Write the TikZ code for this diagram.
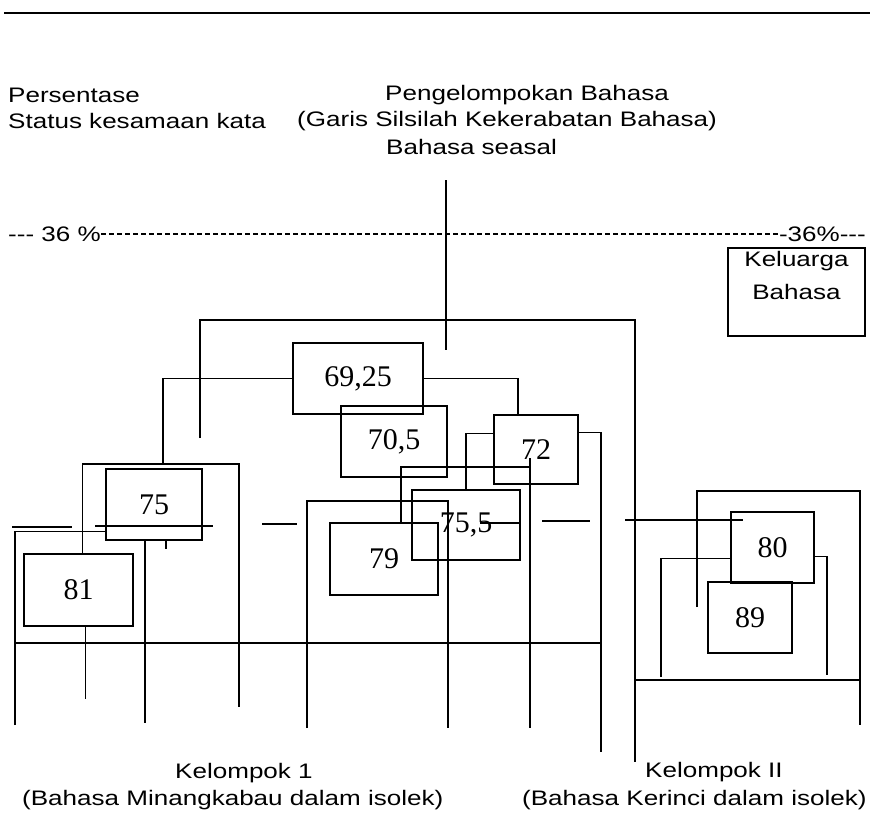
\documentclass[tikz,border=0pt]{standalone}
\usepackage{fontspec}
\newfontfamily\capfont[FakeStretch=1.24]{Liberation Sans}
\newfontfamily\numfont{Liberation Serif}
\usetikzlibrary{positioning}

\tikzset{
  tree/.style={line width=1.6pt},
  numbox/.style={draw, line width=1.6pt, inner sep=0pt, font=\numfont\fontsize{30}{30}\selectfont},
  caption/.style={inner sep=0pt, font=\capfont\fontsize{21}{26}\selectfont},
}

\begin{document}
\begin{tikzpicture}[x=1pt, y=-1pt]
  \useasboundingbox (0,0) rectangle (872,817);
  \draw[line width=1.3pt] (4,13) -- (870,13);
  % heading
  \node[caption, anchor=west] (persen) at (8,95) {Persentase};
  \node[caption, anchor=west] (status) at (8,121) {Status kesamaan kata};
  \node[caption, anchor=west] (kelompokan) at (385,95) {Pengelompokan Bahasa};
  \node[caption, anchor=west] (garis) at (297,121) {(Garis Silsilah Kekerabatan Bahasa)};
  \node[caption, anchor=west] (seasal) at (386,147) {Bahasa seasal};
  % 36 % level
  \node[caption, anchor=west] (pctl) at (8,234) {-{}-{}- 36 \%};
  \node[caption, anchor=east] (pctr) at (866,234) {-36\%-{}-{}-};
  \draw[line width=1.2pt, dash pattern=on 5pt off 3pt] (pctl.east) -- (pctr.west);
  \node[draw, line width=1.3pt, minimum width=137pt, minimum height=88pt] (keluarga) at (796.5,292) {};
  \node[caption, align=center, anchor=north, font=\capfont\fontsize{21}{33}\selectfont] (keluargatxt) at ([yshift=-4pt]keluarga.north) {Keluarga\\Bahasa};
  % boxes
  \node[numbox, minimum width=130pt, minimum height=71pt] (b6925) at (358,378.5) {69,25};
  \node[numbox, minimum width=106pt, minimum height=71pt] (b705) at (394,441.5) {70,5};
  \node[numbox, minimum width=84pt, minimum height=69pt] (b72) at (536,449.5) {72};
  \node[numbox, minimum width=108pt, minimum height=70pt] (b755) at (466,525) {75,5};
  \node[numbox, minimum width=108pt, minimum height=72pt] (b79) at (384,559) {79};
  \node[numbox, minimum width=96pt, minimum height=71pt] (b75) at (154,504.5) {75};
  \node[numbox, minimum width=109pt, minimum height=72pt] (b81) at (78.5,590) {81};
  \node[numbox, minimum width=83pt, minimum height=71pt] (b80) at (772.5,547.5) {80};
  \node[numbox, minimum width=84pt, minimum height=71pt] (b89) at (750,617.5) {89};
  % free ends
  \coordinate (root) at (446,180);
  \coordinate (rootend) at (446,350);
  \coordinate (stub) at (200,438);
  \coordinate (bar) at (635,320);
  \coordinate (legII) at (635,762);
  \coordinate (fork75) at (163,464);
  \coordinate (top239) at (239,464);
  \coordinate (end239) at (239,707);
  \coordinate (end15) at (15,725);
  \coordinate (end145) at (145,723);
  \coordinate (top530) at (530,458);
  \coordinate (mid530) at (530,467);
  \coordinate (end530) at (530,728);
  \coordinate (end307) at (307,728);
  \coordinate (top448) at (448,501);
  \coordinate (end448) at (448,728);
  \coordinate (end601) at (601,752);
  \coordinate (barl) at (15,643);
  \coordinate (barr) at (601,643);
  \coordinate (end697) at (697,607);
  \coordinate (top860) at (860,491);
  \coordinate (end860) at (860,725);
  \coordinate (end661) at (661,677);
  \coordinate (end827) at (827,675);
  \coordinate (barIIl) at (635,680);
  \coordinate (barIIr) at (860,680);
  % tree
  \draw[tree] (root) -- (rootend);
  \draw[tree] (stub) |- (bar) -- (legII);
  \draw[tree] (b6925.west) -| (fork75);
  \draw[tree] ([xshift=4pt]b81.north) |- (top239) -- (end239);
  \draw[tree] (b6925.east) -| ([xshift=-18pt]b72.north);
  \draw[tree] ([yshift=16pt]b72.west) -| (b755.north);
  \draw[tree] ([yshift=17pt]b72.east) -| (end601);
  \draw[tree] (top530) -- (end530);
  \draw[tree] ([xshift=17pt]b79.north) |- (mid530);
  \draw[tree] (end307) |- (top448) -- (end448);
  \draw[tree] (end15) |- ([yshift=-27pt]b75.west);
  \draw[tree] ([xshift=7pt]b81.south) -- ++(0,72);
  \draw[tree] ([xshift=-9pt]b75.south) -- (end145);
  \draw[tree] ([xshift=12pt]b75.south) -- ++(0,8);
  \draw[tree] (barl) -- (barr);
  \foreach \xa/\xb/\yy in {12/72/527, 95/213/526, 262/297/524, 480/520/523, 542/590/521, 625/743/520}
    \draw[tree] (\xa,\yy) -- (\xb,\yy);
  \draw[tree] (end697) |- (top860) -- (end860);
  \draw[tree] (end661) |- ([yshift=-11pt]b80.west);
  \draw[tree] ([yshift=-9pt]b80.east) -| (end827);
  \draw[tree] (barIIl) -- (barIIr);
  % groups
  \node[caption, anchor=west] (kel1) at (175,773) {Kelompok 1};
  \node[caption, anchor=west] (minang) at (22,800) {(Bahasa Minangkabau dalam isolek)};
  \node[caption, anchor=west] (kel2) at (645,772) {Kelompok II};
  \node[caption, anchor=west] (kerinci) at (522,800) {(Bahasa Kerinci dalam isolek)};
\end{tikzpicture}
\end{document}
